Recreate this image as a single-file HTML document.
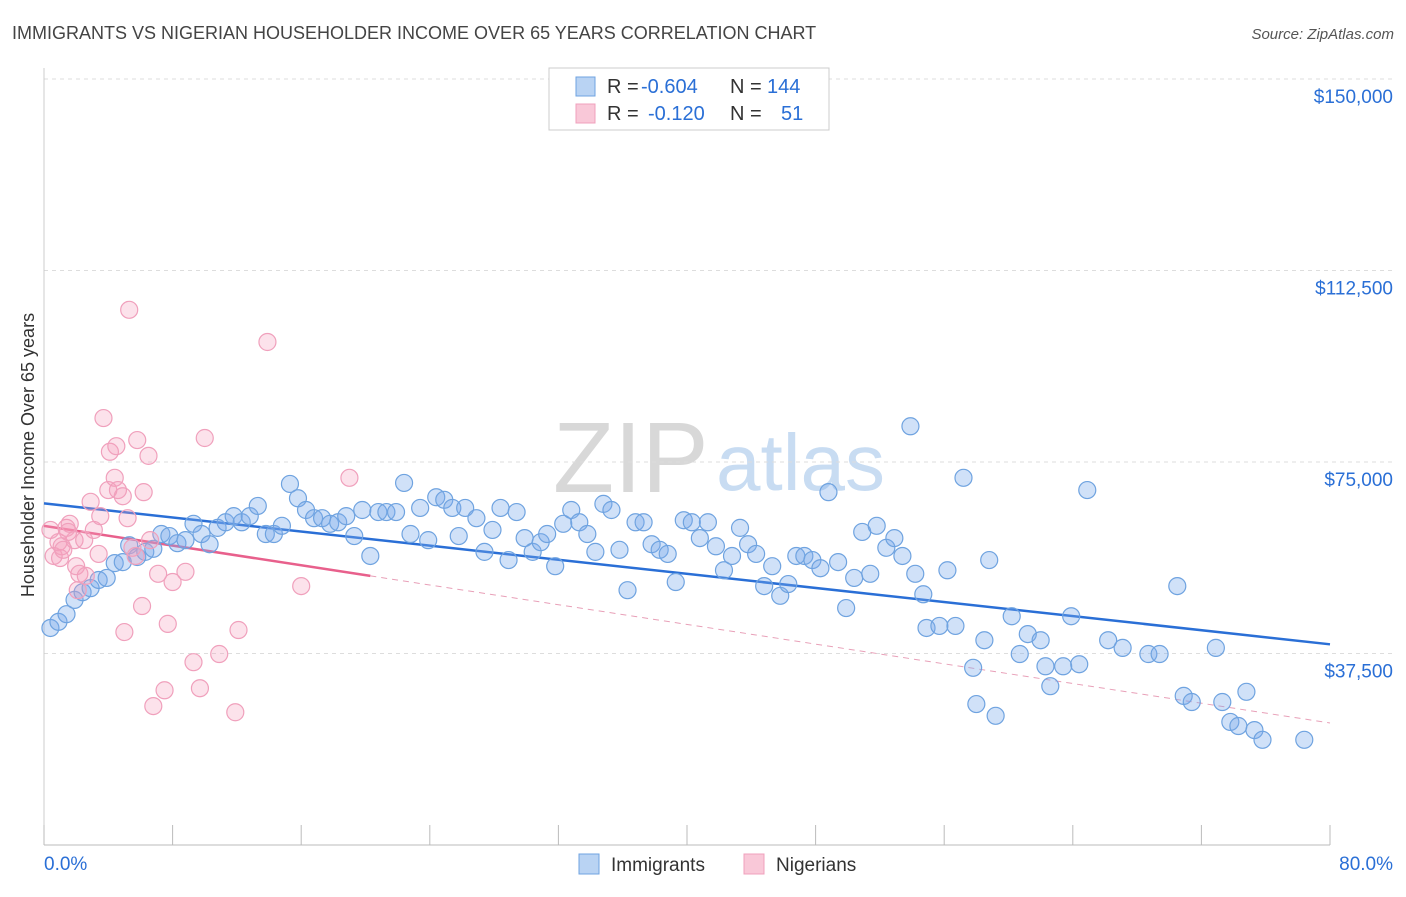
<!DOCTYPE html>
<html><head><meta charset="utf-8"><style>
body{margin:0;background:#fff;font-family:"Liberation Sans",sans-serif;}
svg text{font-family:"Liberation Sans",sans-serif;}
</style></head><body>
<svg id="chart" width="1406" height="892" xmlns="http://www.w3.org/2000/svg">
<text x="12" y="39" font-size="18" fill="#444">IMMIGRANTS VS NIGERIAN HOUSEHOLDER INCOME OVER 65 YEARS CORRELATION CHART</text>
<text x="1394" y="39" font-size="15" fill="#555" text-anchor="end" font-style="italic">Source: ZipAtlas.com</text>
<text x="553" y="492" font-size="100" fill="#d8d8d8" font-family="Liberation Serif">ZIP</text>
<text x="716" y="490" font-size="80" fill="#c8dcf2">atlas</text>
<text transform="translate(34,455) rotate(-90)" font-size="18" fill="#333" text-anchor="middle">Householder Income Over 65 years</text>
<g id="grid"></g><g id="axes"></g><g id="trends"></g><g id="pts"></g>
<g>
<rect x="549" y="68" width="280" height="62" fill="#fff" stroke="#ccc"/>
<rect x="576" y="77" width="19" height="19" fill="#b9d3f3" stroke="#6fa3e0"/>
<rect x="576" y="104" width="19" height="19" fill="#f9c8d8" stroke="#f0a0bc"/>
<text x="607" y="93" font-size="20" fill="#333">R =</text>
<text x="641" y="93" font-size="20" fill="#2a6fd6">-0.604</text>
<text x="730" y="93" font-size="20" fill="#333">N =</text>
<text x="767" y="93" font-size="20" fill="#2a6fd6">144</text>
<text x="607" y="120" font-size="20" fill="#333">R =</text>
<text x="648" y="120" font-size="20" fill="#2a6fd6">-0.120</text>
<text x="730" y="120" font-size="20" fill="#333">N =</text>
<text x="781" y="120" font-size="20" fill="#2a6fd6">51</text>
</g>
<g>
<rect x="579" y="854" width="20" height="20" fill="#b9d3f3" stroke="#6fa3e0"/>
<text x="611" y="871" font-size="19" fill="#333">Immigrants</text>
<rect x="744" y="854" width="20" height="20" fill="#f9c8d8" stroke="#f0a0bc"/>
<text x="776" y="871" font-size="19" fill="#333">Nigerians</text>
</g>
</svg>
<script>
const blueX=[.4,.9,1.4,1.9,2.4,2.9,3.4,3.9,4.4,4.9,5.3,5.8,6.3,6.8,7.3,7.8,8.3,8.8,9.3,9.8,10.3,10.8,11.3,11.8,12.3,12.8,13.3,13.8,14.3,14.8,15.3,15.8,16.3,16.8,17.3,17.8,18.3,18.8,19.3,19.8,20.3,20.8,21.3,21.9,22.4,22.8,23.4,23.9,24.4,24.9,25.4,25.8,26.2,26.9,27.4,27.9,28.4,28.9,29.4,29.9,30.4,30.9,31.3,31.8,32.3,32.8,33.3,33.8,34.3,34.8,35.3,35.8,36.3,36.8,37.3,37.8,38.3,38.8,39.3,39.8,40.3,40.8,41.3,41.8,42.3,42.8,43.3,43.8,44.3,44.8,45.3,45.8,46.3,46.8,47.3,47.8,48.3,48.8,49.4,49.9,50.4,50.9,51.4,51.8,52.4,52.9,53.4,53.9,54.2,54.7,54.9,55.7,56.2,56.7,57.2,57.8,58.0,58.5,58.8,59.2,60.2,60.7,61.2,62.0,62.3,62.6,63.4,63.9,64.4,64.9,66.2,67.1,68.7,69.4,70.5,70.9,71.4,72.9,73.3,73.8,74.3,74.8,75.3,75.8,78.4];
const blueY=[42.5,43.7,45.2,48.0,49.5,50.3,51.9,52.3,55.2,55.4,58.7,56.4,57.4,58.0,60.9,60.5,59.1,59.7,62.9,60.9,58.9,62.1,63.2,64.4,63.2,64.4,66.4,60.9,60.9,62.5,70.7,67.9,65.6,64.0,64.0,62.9,63.2,64.4,60.5,65.6,56.6,65.2,65.2,65.2,70.9,60.9,66.0,59.7,68.1,67.6,66.0,60.5,66.0,64.0,57.4,61.7,66.0,55.8,65.2,60.1,57.4,59.3,60.9,54.6,62.9,65.6,63.2,60.9,57.4,66.8,65.6,57.8,49.9,63.2,63.2,58.9,57.8,57.0,51.5,63.6,63.2,60.1,63.2,58.5,53.8,56.6,62.1,58.9,57.0,50.7,54.6,48.8,51.1,56.6,56.6,55.8,54.2,69.1,55.4,46.4,52.3,61.3,53.1,62.5,58.2,60.1,56.6,82.0,53.1,49.1,42.5,42.9,53.8,42.9,71.9,34.7,27.6,40.1,55.8,25.3,44.8,37.4,41.3,40.1,35.0,31.1,35.0,44.8,35.4,69.5,40.1,38.6,37.4,37.4,50.7,29.2,28.0,38.6,28.0,24.1,23.3,30.0,22.5,20.6,20.6];
const pinkX=[.4,.6,.9,1.1,1.4,1.6,1.9,2.0,2.1,2.2,2.5,2.6,2.9,3.1,3.4,3.5,3.7,4.0,4.1,4.4,4.5,4.6,4.9,5.0,5.2,5.3,5.5,5.7,5.8,6.1,6.2,6.5,6.6,6.8,7.1,7.5,7.7,8.0,8.8,9.3,9.7,10.0,10.9,11.9,12.1,13.9,16.0,19.0,1.0,1.2,1.5];
const pinkY=[61.7,56.6,59.3,58.5,62.1,62.9,59.7,54.6,49.9,53.1,59.7,52.7,67.2,61.7,57.0,64.4,83.6,69.5,77.0,71.9,78.1,69.5,68.3,41.7,64.0,104.8,58.2,56.6,79.3,46.8,69.1,76.2,59.7,27.2,53.1,30.3,43.3,51.5,53.5,35.8,30.7,79.7,37.4,26.0,42.1,98.5,50.7,71.9,56.2,57.8,61.3];
const blueTrendX=[0,80], blueTrendY=[66.9,39.3];
const pinkTrendX=[0,20.3], pinkTrendY=[62.5,52.7];
const pinkDashX=[20.3,80], pinkDashY=[52.7,23.9];
const yTicks=[37.5,75,112.5,150];
const yTickLabels=["$37,500","$75,000","$112,500","$150,000"];
const xTicks=[0,8,16,24,32,40,48,56,64,72,80];

const NS="http://www.w3.org/2000/svg";
const X=v=>44+v/80*1286, Y=v=>845-v/37.5*191.5;
function mk(tag,attrs,parent){const e=document.createElementNS(NS,tag);for(const k in attrs)e.setAttribute(k,attrs[k]);document.getElementById(parent).appendChild(e);return e;}
yTicks.forEach((t,i)=>{
 const g=mk('line',{x1:44,x2:1394,y1:Y(t),y2:Y(t),stroke:'#ddd','stroke-dasharray':'4,4'},'grid');
 
 
 const l=mk('text',{x:1393,y:Y(t)+24,'font-size':19,fill:'#2a6fd6','text-anchor':'end'},'axes');
 l.textContent=yTickLabels[i];
 
 
});
const ax=mk('line',{x1:44,x2:1330,y1:845,y2:845,stroke:'#bbb'},'axes');


const ay=mk('line',{x1:44,x2:44,y1:68,y2:845,stroke:'#ccc'},'axes');


xTicks.forEach(t=>{
 const k=mk('line',{x1:X(t),x2:X(t),y1:825,y2:845,stroke:'#bbb'},'axes');
 
 
});
[[0,'0.0%','start',44],[80,'80.0%','end',1393]].forEach(d=>{
 const l=mk('text',{x:d[3],y:870,'font-size':19,fill:'#2a6fd6','text-anchor':d[2]},'axes');
 l.textContent=d[1];
 
 
});
blueX.forEach((x,i)=>{
 const c=mk('circle',{cx:X(x),cy:Y(blueY[i]),r:8.5,fill:'rgba(120,170,235,0.35)',stroke:'#6fa3e0','stroke-width':1.2},'pts');
 
 
});
pinkX.forEach((x,i)=>{
 const c=mk('circle',{cx:X(x),cy:Y(pinkY[i]),r:8.5,fill:'rgba(245,160,190,0.3)',stroke:'#f0a0bc','stroke-width':1.2},'pts');
 
 
});
const bt=mk('line',{x1:X(blueTrendX[0]),y1:Y(blueTrendY[0]),x2:X(blueTrendX[1]),y2:Y(blueTrendY[1]),stroke:'#2a6fd6','stroke-width':2.5},'trends');


const pt=mk('line',{x1:X(pinkTrendX[0]),y1:Y(pinkTrendY[0]),x2:X(pinkTrendX[1]),y2:Y(pinkTrendY[1]),stroke:'#e8608c','stroke-width':2.5},'trends');


const pd=mk('line',{x1:X(pinkDashX[0]),y1:Y(pinkDashY[0]),x2:X(pinkDashX[1]),y2:Y(pinkDashY[1]),stroke:'#e8a0b8','stroke-width':1,'stroke-dasharray':'6,5'},'trends');


</script>
</body></html>
